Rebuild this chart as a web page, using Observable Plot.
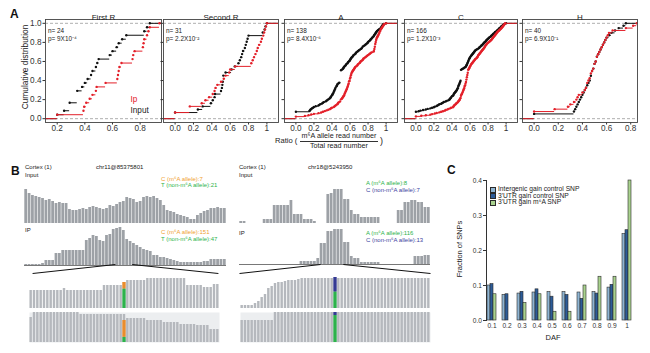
<!DOCTYPE html>
<html><head><meta charset="utf-8">
<script src="https://cdn.jsdelivr.net/npm/d3@7"></script>
<script src="https://cdn.jsdelivr.net/npm/@observablehq/plot@0.6"></script>
<style>
body{margin:0;background:#fff;}
#fig{position:relative;width:650px;height:353px;overflow:hidden;background:#fff;font-family:"Liberation Sans",Arial,sans-serif;color:#222;}
#fig svg{position:absolute;overflow:visible;}
.lbl{position:absolute;white-space:nowrap;line-height:1;}
</style></head><body><div id="fig"></div>
<script>
// ---------------- Panel A data (ratio values, Input = black, Ip = red) ----------------
const subplotTitles = ["First R", "Second R", "A", "C", "H"];
const pValues = ["9X10⁻⁴", "2.2X10⁻²", "8.4X10⁻⁶", "1.2X10⁻³", "6.9X10⁻¹"];
const xTicksA = [[0.2,0.4,0.6,0.8],[0,0.2,0.4,0.6,0.8,1],[0,0.2,0.4,0.6,0.8,1],[0,0.2,0.4,0.6,0.8,1],[0,0.2,0.4,0.6,0.8]];
const yTicksA = [0,0.2,0.4,0.6,0.8,1];

const firstR_input = [0.20,0.25,0.29,0.29,0.345,0.345,0.345,0.38,0.40,0.42,0.445,0.455,0.48,0.49,0.50,0.58,0.60,0.63,0.645,0.67,0.70,0.83,0.85,0.87];
const firstR_ip = [0.20,0.39,0.395,0.41,0.435,0.455,0.48,0.485,0.55,0.635,0.64,0.645,0.65,0.665,0.745,0.75,0.76,0.82,0.825,0.83,0.85,0.86,0.87,0.94];

const secondR_input = [0,0,0.248,0.30,0.39,0.41,0.43,0.435,0.50,0.51,0.515,0.52,0.525,0.525,0.55,0.615,0.65,0.69,0.705,0.72,0.73,0.74,0.76,0.77,0.78,0.79,0.80,0.955,0.975,0.985,1.0];
const secondR_ip = [0,0,0.16,0.16,0.29,0.33,0.37,0.41,0.43,0.44,0.46,0.50,0.53,0.55,0.59,0.60,0.655,0.83,0.845,0.86,0.875,0.89,0.90,0.915,0.935,0.945,0.96,0.97,0.98,0.99,1.0];

const a_input = [0,0,0,0,0,0,0,0,0,0,0.15,0.155,0.16,0.17,0.18,0.19,0.20,0.22,0.25,0.26,0.27,0.29,0.30,0.31,0.33,0.34,0.35,0.36,0.37,0.38,0.385,0.39,0.40,0.40,0.405,0.41,0.415,0.42,0.42,0.425,0.43,0.43,0.435,0.44,0.44,0.45,0.45,0.455,0.46,0.46,0.47,0.48,0.5,0.5,0.5,0.5,0.5,0.5,0.5,0.5,0.5,0.5,0.5,0.5,0.5,0.5,0.5,0.5,0.5,0.5,0.51,0.52,0.525,0.53,0.535,0.54,0.55,0.555,0.56,0.57,0.575,0.58,0.59,0.595,0.60,0.605,0.61,0.615,0.62,0.63,0.635,0.64,0.65,0.66,0.665,0.67,0.68,0.69,0.70,0.71,0.72,0.73,0.74,0.74,0.75,0.76,0.77,0.78,0.79,0.795,0.80,0.81,0.82,0.825,0.83,0.84,0.845,0.85,0.86,0.865,0.87,0.875,0.88,0.885,0.89,0.895,0.90,0.91,0.92,0.93,0.94,0.945,0.95,0.955,0.96,0.965,0.97,1.0];
const a_ip = [0,0,0,0.10,0.14,0.17,0.20,0.25,0.28,0.30,0.32,0.34,0.36,0.38,0.39,0.40,0.42,0.43,0.44,0.45,0.46,0.465,0.47,0.48,0.49,0.50,0.50,0.50,0.51,0.515,0.52,0.525,0.53,0.535,0.54,0.54,0.545,0.55,0.55,0.555,0.56,0.56,0.565,0.57,0.57,0.575,0.575,0.58,0.58,0.585,0.585,0.59,0.59,0.59,0.595,0.60,0.60,0.60,0.605,0.605,0.61,0.61,0.61,0.615,0.615,0.62,0.62,0.625,0.63,0.635,0.64,0.645,0.65,0.655,0.66,0.67,0.68,0.685,0.69,0.70,0.71,0.715,0.72,0.73,0.74,0.745,0.75,0.76,0.77,0.78,0.79,0.80,0.81,0.82,0.83,0.84,0.86,0.865,0.87,0.87,0.87,0.875,0.875,0.875,0.88,0.88,0.88,0.88,0.885,0.885,0.885,0.89,0.89,0.89,0.895,0.895,0.90,0.90,0.905,0.91,0.915,0.92,0.92,0.925,0.93,0.93,0.935,0.94,0.94,0.945,0.95,0.955,0.96,0.965,0.97,0.975,0.98,1.0];

const c_input = [0,0,0,0,0,0,0,0,0,0,0,0,0.03,0.05,0.08,0.11,0.13,0.16,0.18,0.20,0.21,0.23,0.24,0.25,0.26,0.28,0.29,0.30,0.31,0.33,0.34,0.36,0.37,0.375,0.38,0.385,0.39,0.40,0.40,0.41,0.415,0.42,0.42,0.425,0.43,0.435,0.44,0.445,0.45,0.455,0.46,0.46,0.465,0.47,0.47,0.47,0.475,0.475,0.48,0.48,0.485,0.485,0.49,0.49,0.495,0.495,0.5,0.5,0.5,0.5,0.5,0.5,0.5,0.5,0.5,0.5,0.5,0.5,0.5,0.5,0.5,0.5,0.5,0.5,0.5,0.51,0.52,0.53,0.54,0.55,0.555,0.56,0.56,0.565,0.57,0.57,0.575,0.575,0.58,0.58,0.585,0.585,0.59,0.59,0.595,0.60,0.60,0.61,0.61,0.615,0.62,0.625,0.63,0.635,0.64,0.645,0.65,0.655,0.66,0.67,0.68,0.69,0.70,0.705,0.71,0.72,0.725,0.73,0.74,0.745,0.75,0.755,0.76,0.77,0.775,0.78,0.785,0.79,0.80,0.805,0.81,0.82,0.83,0.835,0.84,0.85,0.855,0.86,0.87,0.875,0.88,0.89,0.90,0.905,0.91,0.92,0.925,0.93,0.94,0.945,0.95,0.96,0.965,0.97,0.98,1.0];
const c_ip = [0,0,0,0,0.06,0.11,0.16,0.18,0.21,0.23,0.26,0.28,0.30,0.32,0.33,0.35,0.36,0.38,0.39,0.41,0.415,0.42,0.425,0.43,0.44,0.445,0.45,0.46,0.465,0.47,0.475,0.48,0.485,0.49,0.49,0.495,0.50,0.50,0.50,0.50,0.505,0.505,0.51,0.515,0.515,0.52,0.52,0.525,0.525,0.53,0.53,0.535,0.535,0.54,0.54,0.54,0.545,0.545,0.55,0.55,0.55,0.555,0.555,0.555,0.56,0.56,0.56,0.56,0.565,0.565,0.565,0.565,0.57,0.57,0.57,0.57,0.575,0.575,0.575,0.575,0.58,0.58,0.58,0.58,0.58,0.585,0.59,0.59,0.595,0.60,0.60,0.605,0.61,0.61,0.615,0.62,0.625,0.63,0.635,0.64,0.645,0.65,0.655,0.66,0.67,0.675,0.68,0.685,0.69,0.69,0.695,0.70,0.705,0.71,0.715,0.72,0.725,0.73,0.735,0.74,0.745,0.75,0.755,0.76,0.765,0.77,0.77,0.775,0.78,0.785,0.79,0.80,0.805,0.815,0.82,0.83,0.835,0.84,0.845,0.85,0.855,0.86,0.865,0.87,0.875,0.88,0.885,0.89,0.895,0.90,0.905,0.91,0.92,0.925,0.93,0.94,0.945,0.95,0.955,0.96,0.965,0.97,0.975,0.98,0.985,0.99];

const h_input = [0,0,0.33,0.34,0.35,0.36,0.37,0.38,0.39,0.40,0.41,0.42,0.43,0.44,0.45,0.46,0.47,0.47,0.48,0.48,0.49,0.50,0.50,0.51,0.52,0.52,0.53,0.54,0.55,0.56,0.57,0.58,0.59,0.60,0.62,0.64,0.67,0.70,0.74,0.76];
const h_ip = [0,0,0,0.17,0.28,0.30,0.33,0.35,0.36,0.37,0.40,0.42,0.43,0.44,0.44,0.45,0.46,0.47,0.47,0.48,0.49,0.50,0.50,0.51,0.52,0.52,0.53,0.54,0.55,0.56,0.57,0.58,0.59,0.60,0.61,0.62,0.65,0.76,0.82,0.85];

// ---------------- Panel B data (read coverage, arbitrary units) ----------------
const leftInputCov = [34,30,28,27,26,25,23,24,22,20,21,20,20,14,13,13,14,15,14,16,17,16,15,14,15,18,17,19,21,22,26,25,24,21,22,26,27,26,27,25,23,18,13,12,11,9,8,7,6,4,4,8,10,12,13,15,15,16,15,15];
const leftIpCov = [1,1,1,1,1,2,5,5,5,12,12,15,15,15,15,15,15,15,25,27,30,29,25,24,30,31,36,37,38,35,26,24,22,20,18,16,15,14,10,10,8,8,7,6,5,4,3,3,3,3,3,3,3,4,4,6,6,6,6,6];
const leftZoomInputCov = [18,18,18,18,18,18,18,18,18,18,20,18,18,18,18,18,18,18,18,18,18,18,23,23,23,23,23,23,26,28,28,28,28,28,28,30,30,30,30,30,30,30,30,30,30,30,30,23,23,23,23,23,21,21,21,24,24];
const leftZoomIpCov = [25,30,30,30,30,30,30,30,30,30,30,30,30,30,30,28,28,28,28,28,28,28,28,28,28,28,28,28,28,24,24,24,24,24,24,22,22,22,22,22,20,20,20,20,20,18,18,18,18,18,17,17,17,17,13,13,13];
const rightInputCov = [2,2,0,0,0,0,0,4,4,4,18,18,18,18,18,23,9,9,9,4,4,4,2,0,0,0,29,30,34,34,34,24,24,13,9,9,6,6,6,6,6,6,0,0,0,0,0,13,13,21,21,23,23,21,21,16,16];
const rightIpCov = [0,0,0,0,0,0,0,0,0,0,0,0,0,0,0,0,0,0,3,3,3,3,3,6,21,21,33,33,35,35,35,22,22,8,6,6,2,2,2,2,2,2,0,0,0,0,0,0,0,0,0,0,8,8,8,9,9];
const rightZoomInputCov = [3,3,3,3,5,7,11,14,20,22,25,26,26,27,28,28,28,29,30,30,30,30,30,30,30,30,30,30,30,30,30,30,30,30,30,30,30,30,30,30,30,30,30,30,30,30,30,30,30,30,30,30,30,30,30,30,30];
const rightZoomIpCov = [22,22,22,22,22,22,22,22,22,22,30,30,30,30,30,30,30,30,30,30,30,30,30,30,30,30,30,30,30,30,30,30,30,30,30,30,30,30,30,30,30,30,30,30,30,30,30,30,30,30,30,30,30,30,30,30,30];
const snpBin = 28;
const leftMarkerHeights = [26, 22];
const rightMarkerHeights = [31, 30];
// allele counts (bottom-to-top)
const leftInputAlleles = [{allele: "T", count: 21}, {allele: "C", count: 7}];
const leftIpAlleles = [{allele: "T", count: 47}, {allele: "C", count: 151}];
const rightInputAlleles = [{allele: "A", count: 8}, {allele: "C", count: 7}];
const rightIpAlleles = [{allele: "A", count: 116}, {allele: "C", count: 13}];
const leftZoomWindow = [27, 32], leftZoomSpan = [2.4, 57.6];
const rightZoomWindow = [24.2, 31], rightZoomSpan = [0, 57];

// ---------------- Panel C data ----------------
const dafCats = ["0.1","0.2","0.3","0.4","0.5","0.6","0.7","0.8","0.9","1"];
const seriesNames = ["Intergenic gain control SNP", "3'UTR gain control SNP", "3'UTR gain m⁶A SNP"];
const intergenic = [0.100,0.073,0.077,0.080,0.081,0.081,0.080,0.081,0.094,0.247];
const utrControl = [0.104,0.075,0.082,0.089,0.068,0.073,0.062,0.077,0.102,0.258];
const utrM6A     = [0.075,0.000,0.050,0.075,0.025,0.025,0.100,0.125,0.125,0.400];
const seriesColors = ["#8fb5d3", "#2d5c98", "#a9d28e"];

// ---------------- helpers ----------------
const fig = document.getElementById("fig");
const FONT = "Liberation Sans, Arial, sans-serif";
const RED = "#e3202a", BLACK = "#111";
function place(el, left, top) { el.style.left = left + "px"; el.style.top = top + "px"; fig.appendChild(el); return el; }
function addText(html, x, y, o = {}) {
  const d = document.createElement("div");
  d.className = "lbl"; d.innerHTML = html;
  d.style.fontSize = (o.size || 7) + "px"; d.style.color = o.color || "#222";
  if (o.weight) d.style.fontWeight = o.weight;
  const tx = o.anchor === "middle" ? "-50%" : o.anchor === "end" ? "-100%" : "0";
  d.style.transform = `translate(${tx},-50%)` + (o.rotate ? ` rotate(${o.rotate}deg)` : "");
  return place(d, x, y);
}
function steps(vals, dom) {
  const s = vals.slice().sort(d3.ascending), n = s.length;
  const u = Array.from(new Set(s));
  const pts = u.map(v => ({x: v, F: d3.bisectRight(s, v) / n}));
  const segs = [{x1: dom[0], x2: u[0], F: 0}].concat(pts.map((p, i) => ({x1: p.x, x2: i + 1 < u.length ? u[i + 1] : dom[1], F: p.F})));
  return {pts, segs};
}
function rDomain(vals) { // R plot.stepfun xlim + 4% axis extension
  const ext = d3.extent(vals);
  const knots = Array.from(new Set(vals)).sort(d3.ascending);
  const dr = Math.max(0.08 * (ext[1] - ext[0]), d3.median(d3.pairs(knots, (a, b) => b - a)));
  const xl = [ext[0] - dr, ext[1] + dr], w = xl[1] - xl[0];
  return [xl[0] - 0.04 * w, xl[1] + 0.04 * w];
}

// ---------------- Panel A ----------------
const aData = [[firstR_input, firstR_ip],[secondR_input, secondR_ip],[a_input, a_ip],[c_input, c_ip],[h_input, h_ip]];
const aLayout = [{left: 0, width: 164, ml: 45}, {left: 157, width: 124, ml: 6}, {left: 278, width: 122, ml: 6}, {left: 398, width: 122, ml: 6}, {left: 516, width: 124, ml: 6}];
aData.forEach(([inp, ip], k) => {
  const dom = rDomain(inp);
  const e1 = steps(inp, dom), e2 = steps(ip, dom);
  const L = aLayout[k];
  const marks = [
    Plot.ruleY([0, 1], {stroke: "#9a9a9a", strokeDasharray: "3,2", strokeWidth: 0.8}),
    Plot.ruleY(e1.segs, {y: "F", x1: "x1", x2: "x2", stroke: BLACK, strokeWidth: 1}),
    Plot.dot(e1.pts, {x: "x", y: "F", r: 1.2, fill: BLACK}),
    Plot.ruleY(e2.segs, {y: "F", x1: "x1", x2: "x2", stroke: RED, strokeWidth: 1}),
    Plot.dot(e2.pts, {x: "x", y: "F", r: 1.2, fill: RED}),
    Plot.frame({stroke: "#444", strokeWidth: 0.9}),
    Plot.text([subplotTitles[k]], {text: d => d, frameAnchor: "top", dy: -5.5, fontSize: 8, fill: "#222"}),
    Plot.text([`n= ${inp.length}\np= ${pValues[k]}`], {text: d => d, frameAnchor: "top-left", textAnchor: "start", lineAnchor: "top", dx: 2.5, dy: 8.5, fontSize: 6.4, lineHeight: 1.15, fill: "#222"})
  ];
  if (k === 0) {
    marks.push(Plot.text(["Ip"], {text: d => d, frameAnchor: "bottom-right", textAnchor: "start", dx: -31, dy: -21, fontSize: 8.2, fill: RED}));
    marks.push(Plot.text(["Input"], {text: d => d, frameAnchor: "bottom-right", textAnchor: "start", dx: -31, dy: -10, fontSize: 8.2, fill: "#222"}));
  }
  const svg = Plot.plot({
    width: L.width, height: 136, marginLeft: L.ml, marginRight: 3, marginTop: 19, marginBottom: 14,
    style: {fontFamily: FONT, fontSize: "8.2px", color: "#333", background: "transparent", overflow: "visible"},
    x: {domain: dom, ticks: xTicksA[k], tickFormat: d => d === 1 ? "1" : d.toFixed(1), tickSize: 2.5, tickPadding: 0, label: null},
    y: {domain: [-0.04, 1.04], ticks: yTicksA, tickFormat: k === 0 ? d3.format(".1f") : () => "", tickSize: 2.5, tickPadding: 1.5, label: null},
    marks
  });
  place(svg, L.left, 0);
});
addText("A", 10, 14, {size: 12, weight: "bold", color: "#111"});
addText("Cumulative distribution", 25, 67, {size: 8.4, anchor: "middle", rotate: -90});
addText("Ratio (", 275, 140.5, {size: 7.6});
addText("m⁶A allele read number", 339, 136, {size: 7.2, anchor: "middle"});
addText("Total read number", 339, 145.5, {size: 7.2, anchor: "middle"});
(function(){ const d = document.createElement("div"); d.style.cssText = "position:absolute;width:78px;height:0;border-top:0.8px solid #333;"; place(d, 300, 140.5); })();
addText(")", 380, 140.5, {size: 9});

// ---------------- Panel B ----------------
function trackPlot(vals, o) {
  const rows = vals.map((v, i) => ({i, v}));
  const marks = [];
  if (o.bg) marks.push(Plot.frame({fill: o.bg, stroke: null}));
  marks.push(Plot.rectY(rows, {x1: "i", x2: d => d.i + 1, y1: 0, y2: "v", fill: o.fill, insetLeft: o.inset, insetRight: o.inset}));
  if (o.baseline) marks.push(Plot.ruleY([0], {stroke: "#555", strokeWidth: 0.8}));
  if (o.alleles) {
    const total = d3.sum(o.alleles, d => d.count);
    let acc = 0;
    const seg = o.alleles.map(a => { const y1 = acc; acc += a.count / total * o.markerHeight; return {allele: a.allele, y1, y2: acc}; });
    marks.push(Plot.rectY(seg, {x1: () => o.bin, x2: () => o.bin + 1, y1: "y1", y2: "y2", fill: d => o.colors[d.allele]}));
  }
  return Plot.plot({width: o.w, height: o.h, margin: 0,
    style: {background: "transparent", overflow: "visible"},
    x: {domain: [0, vals.length], axis: null}, y: {domain: [0, o.ymax], axis: null}, marks});
}
const covFill = "#9da1a6", zoomFill = "#b5b8bd";
const leftColors = {C: "#ea8d2c", T: "#2cb24b"}, rightColors = {A: "#2cb24b", C: "#343a93"};
place(trackPlot(leftInputCov, {w: 202, h: 38, ymax: 38, fill: covFill, inset: 0.3}), 24, 185);
place(trackPlot(leftIpCov, {w: 202, h: 40, ymax: 40, fill: covFill, inset: 0.3, baseline: true}), 24, 225);
place(trackPlot(leftZoomInputCov, {w: 190, h: 31, ymax: 31, fill: zoomFill, inset: 0.45, alleles: leftInputAlleles, colors: leftColors, bin: snpBin, markerHeight: leftMarkerHeights[0]}), 29, 277);
place(trackPlot(leftZoomIpCov, {w: 190, h: 30, ymax: 30, fill: zoomFill, inset: 0.45, bg: "#eceef0", alleles: leftIpAlleles, colors: leftColors, bin: snpBin, markerHeight: leftMarkerHeights[1]}), 29, 312);
place(trackPlot(rightInputCov, {w: 191, h: 38, ymax: 38, fill: covFill, inset: 0.3}), 239, 185);
place(trackPlot(rightIpCov, {w: 191, h: 40, ymax: 40, fill: covFill, inset: 0.3, baseline: true}), 239, 224);
place(trackPlot(rightZoomInputCov, {w: 190, h: 31, ymax: 31, fill: zoomFill, inset: 0.45, alleles: rightInputAlleles, colors: rightColors, bin: snpBin, markerHeight: rightMarkerHeights[0]}), 240, 277);
place(trackPlot(rightZoomIpCov, {w: 190, h: 30, ymax: 30, fill: zoomFill, inset: 0.45, bg: "#eceef0", alleles: rightIpAlleles, colors: rightColors, bin: snpBin, markerHeight: rightMarkerHeights[1]}), 240, 312);
function zoomLinks(nBins, win, span, w) {
  const links = [{x1: span[0], y1: 0, x2: win[0], y2: 1}, {x1: win[1], y1: 1, x2: span[1], y2: 0}];
  return Plot.plot({width: w, height: 9, margin: 0, style: {background: "transparent", overflow: "visible"},
    x: {domain: [0, nBins], axis: null}, y: {domain: [0, 1], axis: null},
    marks: [Plot.link(links, {x1: "x1", y1: "y1", x2: "x2", y2: "y2", stroke: "#111", strokeWidth: 1})]});
}
place(zoomLinks(leftIpCov.length, leftZoomWindow, leftZoomSpan, 202), 24, 264);
place(zoomLinks(rightIpCov.length, rightZoomWindow, rightZoomSpan, 191), 239, 264);

addText("B", 11, 171, {size: 12, weight: "bold", color: "#111"});
addText("Cortex (1)", 25, 167, {size: 6});
addText("Input", 25, 175, {size: 6});
addText("chr11@85375801", 96, 167, {size: 6});
addText("C (m⁶A allele):7", 161, 179, {size: 6, color: "#f0a030"});
addText("T (non-m⁶A allele):21", 161, 185, {size: 6, color: "#2db34a"});
addText("IP", 25, 230, {size: 6});
addText("C (m⁶A allele):151", 161, 232, {size: 6, color: "#f0a030"});
addText("T (non-m⁶A allele):47", 161, 239, {size: 6, color: "#2db34a"});
addText("Cortex (1)", 239, 167, {size: 6});
addText("Input", 239, 175, {size: 6});
addText("chr18@5243950", 308, 167, {size: 6});
addText("A (m⁶A allele):8", 366, 183, {size: 6, color: "#2db34a"});
addText("C (non-m⁶A allele):7", 366, 190, {size: 6, color: "#3c3fa0"});
addText("IP", 239, 233, {size: 6});
addText("A (m⁶A allele):116", 366, 233, {size: 6, color: "#2db34a"});
addText("C (non-m⁶A allele):13", 366, 240, {size: 6, color: "#3c3fa0"});

// ---------------- Panel C ----------------
const seriesValues = [intergenic, utrControl, utrM6A];
const cRows = dafCats.flatMap((daf, i) => seriesNames.map((s, j) => ({daf, series: s, value: seriesValues[j][i]})));
const cSvg = Plot.plot({
  width: 205, height: 185, marginLeft: 43, marginRight: 10, marginTop: 20, marginBottom: 25,
  style: {fontFamily: FONT, fontSize: "6.6px", color: "#333", background: "transparent", overflow: "visible"},
  fx: {domain: dafCats, paddingInner: 0.3, paddingOuter: 0.05, axis: "bottom", label: null, tickSize: 0, tickPadding: 3},
  x: {domain: seriesNames, axis: null, padding: 0},
  y: {domain: [0, 0.4], ticks: [0, 0.1, 0.2, 0.3, 0.4], tickFormat: d3.format(".1f"), tickSize: 3, tickPadding: 1.5, line: true, label: null},
  color: {domain: seriesNames, range: seriesColors},
  marks: [Plot.barY(cRows.filter(d => d.value > 0), {fx: "daf", x: "series", y: "value", fill: "series", stroke: "#2b2b2b", strokeWidth: 0.6})]
});
place(cSvg, 440, 160);
addText("C", 447, 170, {size: 12, weight: "bold", color: "#111"});
addText("Fraction of SNPs", 460, 249, {size: 7.5, anchor: "middle", rotate: -90});
addText("DAF", 553, 338, {size: 7.5, anchor: "middle"});
seriesNames.forEach((s, j) => {
  const y = 189 + j * 6.7;
  const b = document.createElement("div");
  b.style.cssText = `position:absolute;width:4px;height:4px;background:${seriesColors[j]};border:0.6px solid #2b2b2b;`;
  place(b, 490, y - 2.5);
  addText(s, 498, y, {size: 6.7});
});
</script></body></html>
